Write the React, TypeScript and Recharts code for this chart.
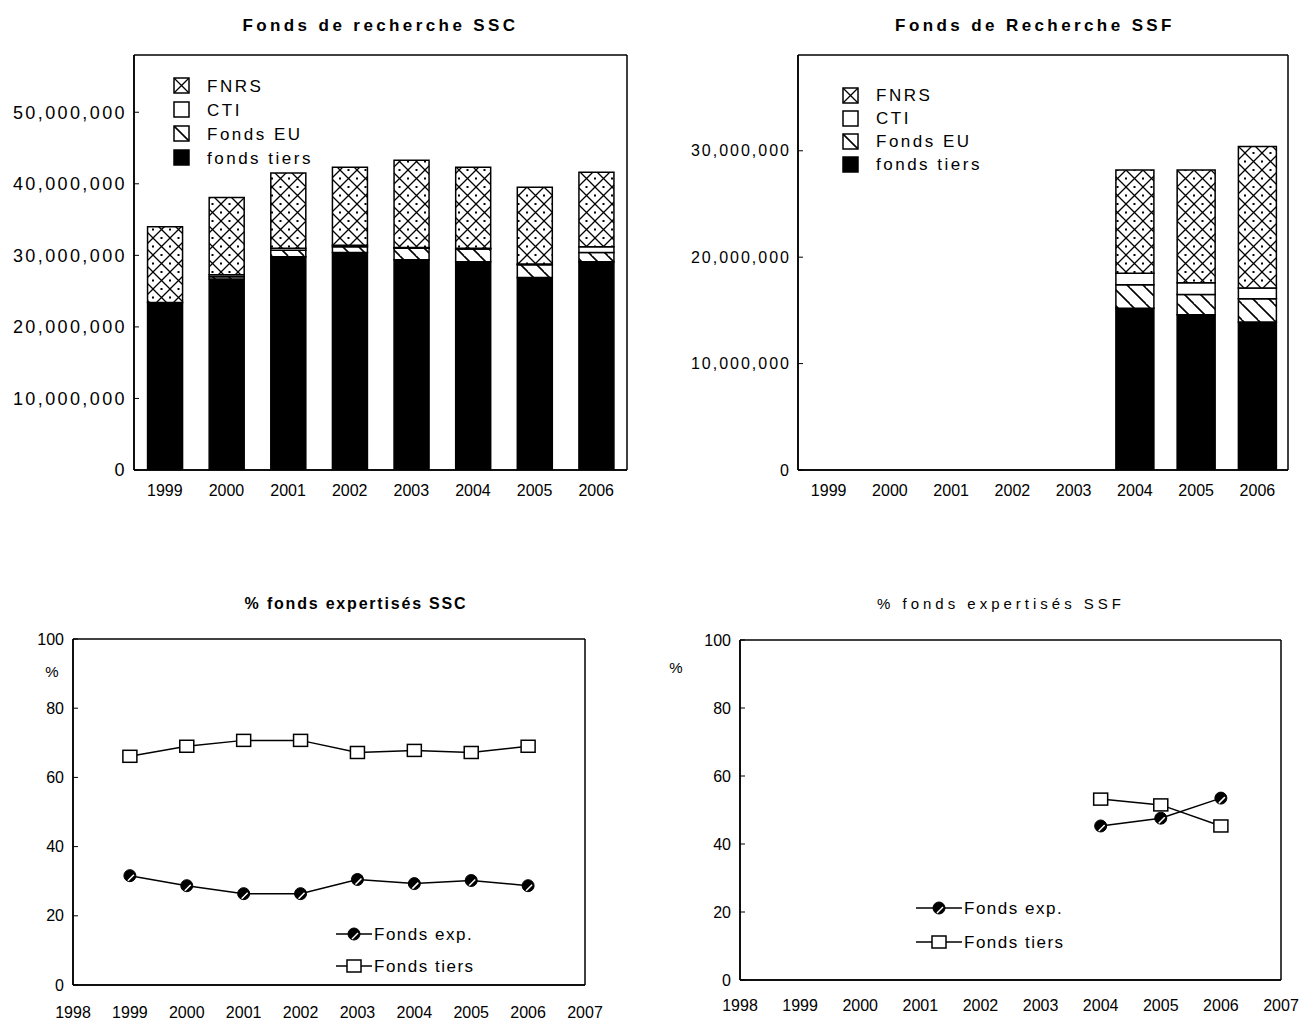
import React from 'react';
import {
  BarChart, Bar, LineChart, Line, XAxis, YAxis, Legend, CartesianGrid,
} from 'recharts';

const FONT = '"Liberation Sans", Arial, sans-serif';

// ---------- data ----------
const years = ['1999', '2000', '2001', '2002', '2003', '2004', '2005', '2006'];

// Fonds de recherche SSC
const sscTiers = [23400000, 26700000, 29800000, 30400000, 29400000, 29100000, 26900000, 29100000];
const sscEU = [0, 300000, 900000, 800000, 1600000, 1800000, 1800000, 1300000];
const sscCTI = [0, 300000, 300000, 200000, 100000, 100000, 100000, 800000];
const sscFNRS = [10600000, 10800000, 10500000, 10900000, 12200000, 11300000, 10700000, 10400000];
const sscTicks = [0, 10000000, 20000000, 30000000, 40000000, 50000000];

// Fonds de Recherche SSF
const ssfTiers = [null, null, null, null, null, 15200000, 14600000, 13900000];
const ssfEU = [null, null, null, null, null, 2200000, 1900000, 2200000];
const ssfCTI = [null, null, null, null, null, 1100000, 1100000, 1000000];
const ssfFNRS = [null, null, null, null, null, 9700000, 10600000, 13300000];
const ssfTicks = [0, 10000000, 20000000, 30000000];

// % fonds expertisés SSC
const pctYears = [1999, 2000, 2001, 2002, 2003, 2004, 2005, 2006];
const sscExpPct = [31.6, 28.7, 26.4, 26.4, 30.5, 29.3, 30.2, 28.7];
const sscTiersPct = [66.1, 69.0, 70.7, 70.7, 67.2, 67.8, 67.2, 69.0];

// % fonds expertisés SSF
const ssfPctYears = [2004, 2005, 2006];
const ssfExpPct = [45.3, 47.6, 53.5];
const ssfTiersPct = [53.2, 51.5, 45.3];

const xYearTicks = [1998, 1999, 2000, 2001, 2002, 2003, 2004, 2005, 2006, 2007];
const pctTicks = [0, 20, 40, 60, 80, 100];

// ---------- tables ----------
const sscData = years.map((y, i) => ({ year: y, tiers: sscTiers[i], eu: sscEU[i], cti: sscCTI[i], fnrs: sscFNRS[i] }));
const ssfData = years.map((y, i) => ({ year: y, tiers: ssfTiers[i], eu: ssfEU[i], cti: ssfCTI[i], fnrs: ssfFNRS[i] }));
const sscPctData = pctYears.map((y, i) => ({ year: y, exp: sscExpPct[i], tiers: sscTiersPct[i] }));
const ssfPctData = ssfPctYears.map((y, i) => ({ year: y, exp: ssfExpPct[i], tiers: ssfTiersPct[i] }));

const fmt = (v: number) => v.toLocaleString('en-US');

const tickStyle = { fill: '#000', fontFamily: FONT, fontSize: 16 };

const BAR_SERIES = [
  { key: 'tiers', name: 'fonds tiers', fill: '#000' },
  { key: 'eu', name: 'Fonds EU', fill: 'url(#pEU)' },
  { key: 'cti', name: 'CTI', fill: '#fff' },
  { key: 'fnrs', name: 'FNRS', fill: 'url(#pFNRS)' },
];

const frameH = (p: any) => {
  const o = p.offset || {};
  return [o.top, o.top + o.height];
};
const frameV = (p: any) => {
  const o = p.offset || {};
  return [o.left, o.left + o.width];
};

function Frame() {
  return (
    <CartesianGrid stroke="#000" strokeWidth={1.5} fill="none" strokeDasharray=""
      horizontalCoordinatesGenerator={frameH} verticalCoordinatesGenerator={frameV} />
  );
}

function Patterns() {
  return (
    <svg width={0} height={0} style={{ position: 'absolute' }}>
      <defs>
        <pattern id="pFNRS" patternUnits="userSpaceOnUse" width={17} height={17}>
          <rect width={17} height={17} fill="#fff" />
          <path d="M0,0 L17,17 M17,0 L0,17" stroke="#000" strokeWidth={1.3} />
          <rect x={7.5} y={-1} width={2} height={2} fill="#000" />
          <rect x={-1} y={7.5} width={2} height={2} fill="#000" />
          <rect x={16} y={7.5} width={2} height={2} fill="#000" />
          <rect x={7.5} y={16} width={2} height={2} fill="#000" />
        </pattern>
        <pattern id="pEU" patternUnits="userSpaceOnUse" width={16} height={16}>
          <rect width={16} height={16} fill="#fff" />
          <path d="M0,0 L16,16 M-8,8 L0,16 M8,-8 L24,8" stroke="#000" strokeWidth={1.6} />
        </pattern>
      </defs>
    </svg>
  );
}

function BarLegend(props: any) {
  const { rowGap, fontSize } = props;
  const items = [...BAR_SERIES].reverse();
  return (
    <div style={{ fontFamily: FONT }}>
      {items.map((it) => (
        <div key={it.key} style={{ display: 'flex', alignItems: 'center', height: rowGap }}>
          <svg width={18} height={18} style={{ marginRight: 16 }}>
            <rect x={1} y={1} width={15} height={15} fill={it.fill} stroke="#000" strokeWidth={1.5} />
          </svg>
          <span style={{ fontSize, letterSpacing: 2.5, color: '#000', lineHeight: 1 }}>{it.name}</span>
        </div>
      ))}
    </div>
  );
}

function ExpDot(props: any) {
  const { cx, cy, index } = props;
  if (cx == null || cy == null) return <g key={`e${index}`} />;
  return (
    <g key={`e${index}`}>
      <circle cx={cx} cy={cy} r={6} fill="#000" stroke="#000" strokeWidth={1} />
      <path d={`M${cx - 2},${cy + 5} L${cx + 4},${cy - 1}`} stroke="#fff" strokeWidth={1.5} />
    </g>
  );
}

function TiersDot(props: any) {
  const { cx, cy, index } = props;
  if (cx == null || cy == null) return <g key={`t${index}`} />;
  return <rect key={`t${index}`} x={cx - 7} y={cy - 6} width={14} height={12} fill="#fff" stroke="#000" strokeWidth={1.5} />;
}

function LineLegend(props: any) {
  const { rowGap, iconW } = props;
  const rows = [
    { name: 'Fonds exp.', kind: 'exp' },
    { name: 'Fonds tiers', kind: 'tiers' },
  ];
  return (
    <div style={{ fontFamily: FONT }}>
      {rows.map((r) => (
        <div key={r.name} style={{ display: 'flex', alignItems: 'center', height: rowGap }}>
          <svg width={iconW} height={16} style={{ marginRight: 2 }}>
            <line x1={0} y1={8} x2={iconW} y2={8} stroke="#000" strokeWidth={1.5} />
            {r.kind === 'exp' ? (
              <ExpDot cx={iconW / 2} cy={8} index={0} />
            ) : (
              <TiersDot cx={iconW / 2} cy={8} index={0} />
            )}
          </svg>
          <span style={{ fontSize: 17, letterSpacing: 1.5, color: '#000', lineHeight: 1 }}>{r.name}</span>
        </div>
      ))}
    </div>
  );
}

function PercentLabel(dx: number, dy: number) {
  return (p: any) => {
    const vb = p.viewBox || {};
    return (
      <text x={vb.x + vb.width + dx} y={vb.y + dy} fontFamily={FONT} fontSize={15} fill="#000" textAnchor="middle">%</text>
    );
  };
}

function Title({ text, left, top, width, bold, size, spacing }: any) {
  return (
    <div style={{
      position: 'absolute', left, top, width, textAlign: 'center', fontFamily: FONT,
      fontWeight: bold ? 'bold' : 'normal', fontSize: size, letterSpacing: spacing, color: '#000',
    }}>{text}</div>
  );
}

function StackChart({ data, ticks, domainMax, yWidth, width, marginRight, legendLeft, legendTop, rowGap, ySize, ySpacing, gap }: any) {
  return (
    <BarChart width={width} height={510} data={data} margin={{ top: 55, right: marginRight, bottom: 10, left: 0 }}
      barCategoryGap={gap}>
      <Frame />
      <XAxis dataKey="year" tick={tickStyle} tickLine={false} axisLine={{ stroke: '#000', strokeWidth: 1.5 }}
        height={30} tickMargin={9} interval={0} />
      <YAxis type="number" domain={[0, domainMax]} ticks={ticks} tickFormatter={fmt}
        tick={{ ...tickStyle, fontSize: ySize, letterSpacing: ySpacing }}
        width={yWidth} tickSize={-5} tickMargin={12} tickLine={{ stroke: '#000' }}
        axisLine={{ stroke: '#000', strokeWidth: 1.5 }} allowDataOverflow />
      <Legend layout="horizontal" verticalAlign="middle" align="center"
        wrapperStyle={{ position: 'absolute', left: legendLeft, top: legendTop, width: 'auto', height: 'auto' }}
        content={() => <BarLegend rowGap={rowGap} fontSize={17} />} />
      {BAR_SERIES.map((s) => (
        <Bar key={s.key} dataKey={s.key} name={s.name} stackId="a" fill={s.fill} stroke="#000" strokeWidth={1.5}
          isAnimationActive={false} />
      ))}
    </BarChart>
  );
}

function PctChart({ data, width, yWidth, marginRight, marginTop, xHeight, tickMargin, pctDx, pctDy, legendLeft, legendTop, rowGap, iconW }: any) {
  return (
    <LineChart width={width} height={470} data={data} margin={{ top: marginTop, right: marginRight, bottom: 10, left: 0 }}>
      <Frame />
      <XAxis type="number" dataKey="year" domain={[1998, 2007]} ticks={xYearTicks} interval={0} tick={tickStyle}
        tickLine={false} axisLine={{ stroke: '#000', strokeWidth: 1.5 }} height={xHeight} tickMargin={tickMargin}
        allowDataOverflow />
      <YAxis type="number" domain={[0, 100]} ticks={pctTicks} tick={tickStyle} width={yWidth} tickSize={-5}
        tickMargin={14} tickLine={{ stroke: '#000' }} axisLine={{ stroke: '#000', strokeWidth: 1.5 }}
        label={{ content: PercentLabel(pctDx, pctDy) } as any} />
      <Legend layout="horizontal" verticalAlign="middle" align="center"
        wrapperStyle={{ position: 'absolute', left: legendLeft, top: legendTop, width: 'auto', height: 'auto' }}
        content={() => <LineLegend rowGap={rowGap} iconW={iconW} />} />
      <Line dataKey="exp" name="Fonds exp." stroke="#000" strokeWidth={1.5} dot={ExpDot} activeDot={false}
        isAnimationActive={false} />
      <Line dataKey="tiers" name="Fonds tiers" stroke="#000" strokeWidth={1.5} dot={TiersDot} activeDot={false}
        isAnimationActive={false} />
    </LineChart>
  );
}

export default function App() {
  return (
    <div style={{ position: 'absolute', left: 0, top: 0, width: 1302, height: 1030, background: '#fff', overflow: 'hidden' }}>
      <Patterns />
      <Title text="Fonds de recherche SSC" left={134} top={16} width={493} bold size={17} spacing={3.4} />
      <Title text="Fonds de Recherche SSF" left={798} top={16} width={474} bold size={17} spacing={3.4} />
      <Title text="% fonds expertisés SSC" left={100} top={595} width={512} bold size={16} spacing={1.8} />
      <Title text="% fonds expertisés SSF" left={740} top={595} width={522} bold={false} size={15} spacing={4} />

      <div style={{ position: 'absolute', left: 0, top: 0 }}>
        <StackChart data={sscData} ticks={sscTicks} domainMax={58000000} yWidth={134} width={650} marginRight={23}
          legendLeft={173} legendTop={74} rowGap={24} ySize={18} ySpacing={2.4} gap="22%" />
      </div>
      <div style={{ position: 'absolute', left: 650, top: 0 }}>
        <StackChart data={ssfData} ticks={ssfTicks} domainMax={39000000} yWidth={148} width={652} marginRight={14}
          legendLeft={192} legendTop={84} rowGap={23} ySize={16} ySpacing={2} gap="19%" />
      </div>
      <div style={{ position: 'absolute', left: 0, top: 560 }}>
        <PctChart data={sscPctData} width={650} yWidth={73} marginRight={65} marginTop={79} xHeight={35}
          tickMargin={16} pctDx={-21} pctDy={38} legendLeft={336} legendTop={358} rowGap={32} iconW={36} />
      </div>
      <div style={{ position: 'absolute', left: 650, top: 560 }}>
        <PctChart data={ssfPctData} width={652} yWidth={90} marginRight={21} marginTop={80} xHeight={40}
          tickMargin={14} pctDx={-64} pctDy={33} legendLeft={266} legendTop={331} rowGap={34} iconW={46} />
      </div>
    </div>
  );
}
